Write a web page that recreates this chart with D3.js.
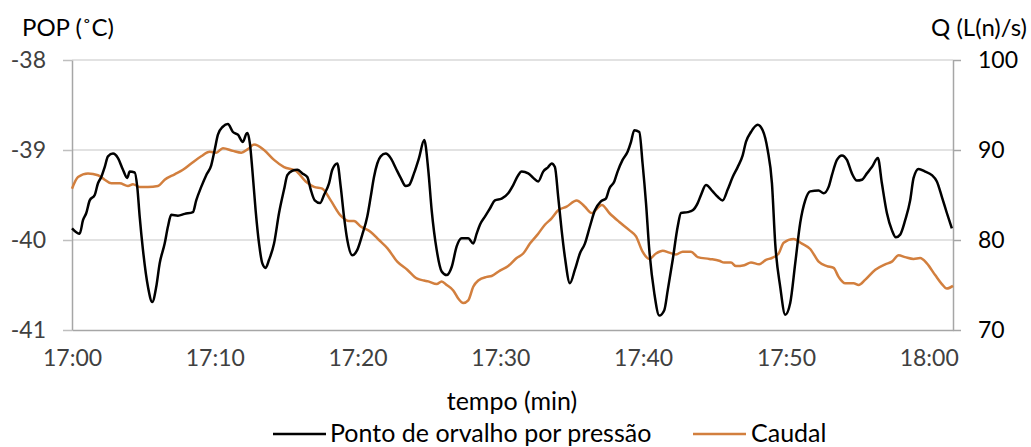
<!DOCTYPE html>
<html><head><meta charset="utf-8">
<script src="https://cdn.jsdelivr.net/npm/d3@7"></script>
<style>body{margin:0;background:#fff}svg{display:block}text{font-family:Lato,"Noto Sans",sans-serif}</style>
</head><body><div id="c"></div>
<script>
// minutes after 17:00
const popTime = [0,0.54,0.77,1.00,1.24,1.59,1.82,2.05,2.29,2.52,2.87,3.22,3.57,3.87,4.04,4.39,4.57,4.74,4.97,5.32,5.62,5.90,6.14,6.49,6.72,6.95,7.42,7.89,8.47,8.70,9.05,9.40,9.75,9.99,10.22,10.57,10.92,11.27,11.62,11.97,12.21,12.29,12.46,12.63,12.86,13.10,13.33,13.56,13.80,14.15,14.50,14.85,15.08,15.43,15.78,16.13,16.48,16.72,17.00,17.37,17.65,18.00,18.23,18.58,18.82,19.05,19.28,19.63,19.98,20.33,20.68,20.92,21.15,21.38,21.62,21.97,22.32,22.67,23.02,23.37,23.60,23.95,24.30,24.67,24.95,25.19,25.54,25.89,26.24,26.59,26.94,27.29,27.75,28.10,28.34,28.57,28.92,29.27,29.62,30.09,30.55,30.90,31.25,31.49,31.95,32.30,32.65,33.00,33.35,33.59,33.82,34.05,34.29,34.52,34.87,35.22,35.57,35.92,36.27,36.62,37.04,37.39,37.63,37.98,38.21,38.56,38.91,39.15,39.38,39.73,39.96,40.20,40.43,40.78,41.13,41.48,41.72,42.07,42.42,42.65,43.12,43.47,43.82,44.05,44.40,44.87,45.22,45.57,45.92,46.27,46.62,46.97,47.20,47.55,48.02,48.37,48.72,49.02,49.25,49.60,49.95,50.30,50.65,51.00,51.35,51.70,52.29,52.64,52.99,53.22,53.57,53.92,54.27,54.62,54.97,55.32,55.67,56.02,56.44,56.72,57.07,57.42,57.70,58.00,58.35,58.70,58.94,59.29,59.75,60.22,60.57,60.92,61.27,61.62];
const popValues = [-39.87,-39.93,-39.78,-39.70,-39.56,-39.50,-39.37,-39.30,-39.19,-39.07,-39.04,-39.09,-39.22,-39.31,-39.24,-39.25,-39.41,-39.74,-40.11,-40.52,-40.69,-40.52,-40.26,-40.04,-39.85,-39.72,-39.73,-39.71,-39.69,-39.56,-39.41,-39.28,-39.17,-39.00,-38.83,-38.74,-38.71,-38.80,-38.83,-38.91,-38.82,-38.81,-38.93,-39.22,-39.67,-40.04,-40.26,-40.31,-40.22,-40.04,-39.70,-39.44,-39.28,-39.23,-39.22,-39.26,-39.30,-39.44,-39.56,-39.59,-39.50,-39.37,-39.22,-39.15,-39.41,-39.74,-40.00,-40.17,-40.11,-39.94,-39.74,-39.52,-39.30,-39.15,-39.07,-39.04,-39.09,-39.20,-39.31,-39.40,-39.39,-39.26,-39.09,-38.89,-39.22,-39.67,-40.11,-40.35,-40.39,-40.30,-40.07,-39.98,-39.98,-40.04,-39.93,-39.83,-39.74,-39.65,-39.56,-39.54,-39.48,-39.39,-39.28,-39.24,-39.26,-39.31,-39.35,-39.24,-39.19,-39.15,-39.19,-39.52,-39.89,-40.19,-40.48,-40.33,-40.15,-40.04,-39.85,-39.67,-39.57,-39.54,-39.43,-39.35,-39.24,-39.11,-39.02,-38.91,-38.78,-38.80,-39.15,-39.59,-40.11,-40.59,-40.84,-40.78,-40.56,-40.22,-39.85,-39.70,-39.69,-39.67,-39.59,-39.50,-39.39,-39.46,-39.52,-39.56,-39.44,-39.30,-39.19,-39.06,-38.91,-38.80,-38.72,-38.78,-39.00,-39.37,-40.04,-40.52,-40.83,-40.70,-40.26,-39.81,-39.56,-39.46,-39.45,-39.48,-39.41,-39.28,-39.11,-39.06,-39.11,-39.26,-39.34,-39.33,-39.26,-39.19,-39.09,-39.37,-39.70,-39.89,-39.97,-39.94,-39.78,-39.56,-39.31,-39.21,-39.24,-39.28,-39.35,-39.52,-39.70,-39.87];
const qTime = [0,0.42,1.12,1.82,2.29,2.75,3.34,3.92,4.27,4.74,5.32,6.02,6.49,7.19,7.77,8.35,9.05,9.64,10.10,10.57,11.27,11.86,12.32,12.75,13.45,14.15,14.85,15.67,16.37,16.95,17.53,18.12,18.82,19.40,19.75,20.22,20.92,21.50,22.08,22.78,23.48,24.18,24.65,24.95,25.54,25.89,26.24,26.70,27.05,27.40,27.75,28.10,28.45,29.04,29.39,29.97,30.55,31.14,31.60,32.07,32.65,33.12,33.59,34.05,34.64,35.34,35.92,36.39,37.11,37.63,38.33,39.03,39.50,39.96,40.43,40.90,41.37,41.83,42.30,42.77,43.35,43.82,44.63,45.33,45.68,46.15,46.50,47.08,47.55,48.13,48.60,49.02,49.49,49.84,50.54,51.12,51.70,52.29,52.87,53.34,53.69,54.15,54.74,55.09,55.56,56.26,56.95,57.42,57.89,58.35,58.94,59.40,59.87,60.45,60.92,61.27,61.70];
const qValues = [85.7,87.0,87.4,87.2,86.7,86.3,86.3,86.0,86.2,85.9,85.9,86.0,86.7,87.3,87.8,88.5,89.3,89.8,89.7,90.2,89.9,89.7,90.1,90.6,90.0,88.9,88.1,87.7,86.5,85.9,85.7,84.4,82.7,82.1,82.1,81.5,80.9,80.0,79.1,77.6,76.7,75.7,75.5,75.4,75.1,75.4,75.0,74.4,73.5,73.0,73.3,74.8,75.5,75.9,76.0,76.6,77.1,78.0,78.5,79.6,80.7,81.7,82.4,83.3,83.7,84.4,83.7,83.0,83.9,83.0,82.0,81.1,80.4,78.7,77.9,78.5,78.8,78.6,78.4,78.7,78.7,78.1,77.9,77.7,77.5,77.5,77.1,77.2,77.5,77.3,77.8,78.0,78.5,79.7,80.1,79.6,79.0,77.6,77.1,76.9,75.9,75.2,75.2,75.0,75.6,76.7,77.3,77.6,78.3,78.1,77.9,78.0,77.4,76.1,75.1,74.6,74.9];
const xTicks = [0,10,20,30,40,50,60];
const xTickLabels = ["17:00","17:10","17:20","17:30","17:40","17:50","18:00"];
const leftTicks = [-38,-39,-40,-41];
const rightTicks = [100,90,80,70];
const seriesNames = ["Ponto de orvalho por pressão","Caudal"];
const colors = ["#000000","#d27f3e"];

const W=1031,H=447;
const m={l:72,r:W-953,t:60,b:H-330};
const svg=d3.select("#c").append("svg").attr("width",W).attr("height",H);
const x=d3.scaleLinear().domain([0,61.7]).range([m.l,W-m.r]);
const yL=d3.scaleLinear().domain([-41,-38]).range([H-m.b,m.t]);
const yR=d3.scaleLinear().domain([70,100]).range([H-m.b,m.t]);

// gridlines
svg.append("g").selectAll("line").data(leftTicks.filter(d=>d!==-41)).join("line")
  .attr("x1",m.l).attr("x2",W-m.r).attr("y1",d=>yL(d)).attr("y2",d=>yL(d))
  .attr("stroke","#d9d9d9").attr("stroke-width",1.5);

// left axis
const gL=svg.append("g").attr("transform",`translate(${m.l},0)`)
  .call(d3.axisLeft(yL).tickValues(leftTicks).tickSize(9).tickSizeOuter(0).tickFormat(d3.format("d")).tickPadding(17));
gL.select(".domain").attr("stroke","#a6a6a6").attr("stroke-width",1.5);
gL.selectAll(".tick line").attr("stroke","#bfbfbf").attr("stroke-width",1.5);
gL.selectAll("text").attr("font-size",23).attr("fill","#404040").text(d=>d<0?"-"+Math.abs(d):d);

// right axis
const gR=svg.append("g").attr("transform",`translate(${W-m.r},0)`)
  .call(d3.axisRight(yR).tickValues(rightTicks).tickSize(8).tickSizeOuter(0).tickPadding(17));
gR.select(".domain").attr("stroke","#a6a6a6").attr("stroke-width",1.5);
gR.selectAll(".tick line").attr("stroke","#a6a6a6").attr("stroke-width",1.5);
gR.selectAll("text").attr("font-size",23).attr("fill","#000");

// bottom axis
const gB=svg.append("g").attr("transform",`translate(0,${H-m.b})`)
  .call(d3.axisBottom(x).tickValues(xTicks).tickSize(0).tickSizeOuter(0).tickPadding(20).tickFormat((d,i)=>xTickLabels[i]));
gB.select(".domain").attr("stroke","#a6a6a6").attr("stroke-width",1.5);
gB.selectAll("text").attr("font-size",23).attr("fill","#404040");

// lines
const popData=popTime.map((t,i)=>[t,popValues[i]]);
const qData=qTime.map((t,i)=>[t,qValues[i]]);
svg.append("path").datum(qData).attr("fill","none").attr("stroke",colors[1]).attr("stroke-width",2.5)
  .attr("d",d3.line().x(d=>x(d[0])).y(d=>yR(d[1])).curve(d3.curveMonotoneX));
svg.append("path").datum(popData).attr("fill","none").attr("stroke",colors[0]).attr("stroke-width",2.5)
  .attr("d",d3.line().x(d=>x(d[0])).y(d=>yL(d[1])).curve(d3.curveMonotoneX));

// titles
svg.append("text").attr("x",22).attr("y",36).attr("font-size",24).attr("fill","#000").text("POP (˚C)");
svg.append("text").attr("x",1027).attr("y",36).attr("text-anchor","end").attr("font-size",24).attr("fill","#000").text("Q (L(n)/s)");
svg.append("text").attr("x",512).attr("y",410).attr("text-anchor","middle").attr("font-size",25).attr("fill","#000").text("tempo (min)");

// legend
const leg=[{x0:273,x1:326,tx:330},{x0:693,x1:746,tx:751}];
leg.forEach((l,i)=>{
  svg.append("line").attr("x1",l.x0).attr("x2",l.x1).attr("y1",434).attr("y2",434).attr("stroke",colors[i]).attr("stroke-width",2.5);
  svg.append("text").attr("x",l.tx).attr("y",442).attr("font-size",25).attr("fill","#000").text(seriesNames[i]);
});
</script></body></html>
